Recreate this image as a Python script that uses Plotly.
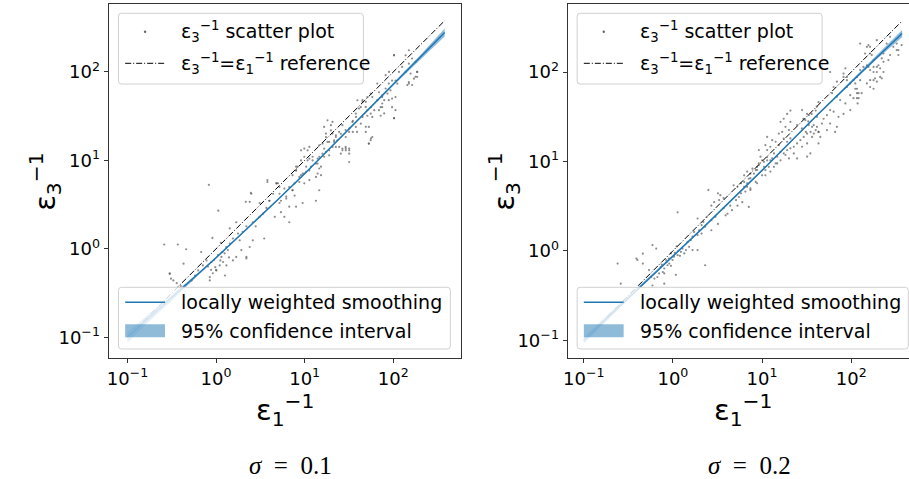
import plotly.graph_objects as go

# ---------------- data ----------------
tick_vals = [0.1, 1, 10, 100]
tick_text = ["10<sup>\u22121</sup>", "10<sup>0</sup>", "10<sup>1</sup>", "10<sup>2</sup>"]

# sigma = 0.1 panel: (eps1^-1, eps3^-1)
left_points = [
    (9.1,10.0),(9.9,11.0),(11.3,10.5),(10.4,8.5),(8.0,7.7),(9.1,6.8),(11.3,6.0),(9.9,5.5),(8.7,5.7),(7.7,4.0),
    (6.7,3.0),(5.9,2.3),(7.3,4.6),(6.2,3.9),(5.2,3.3),(5.4,2.6),(3.8,5.7),(5.0,5.5),(4.4,4.2),(4.0,3.5),
    (3.7,2.9),(3.4,2.5),(3.1,2.3),(2.6,2.0),(2.5,4.2),(2.4,3.4),(2.8,1.8),(2.2,1.8),(2.0,1.56),(1.77,1.49),
    (1.85,1.25),(1.55,1.31),(1.43,1.15),(1.36,0.97),(1.25,0.89),(1.15,0.81),(1.2,0.71),(1.31,0.65),(1.1,0.65),(1.01,0.57),
    (0.92,0.53),(0.85,0.48),(0.81,0.63),(0.89,0.71),(0.78,0.74),(0.71,0.65),(0.68,0.92),(0.91,1.33),(1.13,1.17),(1.06,2.7),
    (0.83,5.3),(0.46,0.99),(0.37,1.12),(0.26,1.12),(0.43,0.68),(0.30,0.52),(0.31,0.46),(2.2,0.78),(1.55,0.74),(2.4,1.05),
    (1.93,0.97),(1.69,0.81),(0.58,0.50),(0.63,0.57),(0.53,0.44),(1.43,1.7),(1.69,2.0),(3.1,3.3),(4.6,2.3),(6.7,2.0),
    (5.4,3.5),(0.30,0.53),(0.85,0.44),(2.2,0.81),(3.5,1.31),(2.6,1.25),(1.0,0.575),(1.26,0.50),(0.36,0.41),(0.33,0.44),
    (0.40,0.38),(0.95,0.75),(1.05,0.85),(1.12,0.74),(0.98,0.62),(1.18,0.92),(1.3,1.05),(0.88,0.58),(1.4,0.8),
    (55.6,56.9),(51,52),(45,46),(39.4,47.9),(41,38.5),(48.9,40.2),(55.6,33.8),(53,23.9),(55.6,16.9),(45,31),
    (37.8,33.8),(34.6,27.2),(37.8,23.9),(31.8,21),(29.1,18.4),(26.7,25),(24.5,21),(22.5,18.4),(21.5,16.9),(20.6,27.2),
    (19.8,25),(19.8,21.9),(17.4,18.4),(18.1,16.2),(15.9,15.5),(14.6,14.8),(16.6,13.6),(18.9,13.0),(22.5,14.2),(26.7,13.6),
    (29.1,13.0),(31.8,13.0),(25.6,11.9),(18.9,11.4),(16.6,11.0),(14,10.5),(13.4,9.2),(12.3,10.0),(11.8,8.5),(10.8,13.0),
    (9.9,13.6),(9.1,13.0),(14.6,8.1),(15.3,6.8),(13.4,6.5),(11.3,7.7),(10.4,7.4),(9.5,7.1),(8.3,8.5),(8.0,7.7),
    (7.3,6.8),(8.7,6.5),(7.7,5.5),(6.7,5.0),(5.9,4.8),(5.2,5.0),(4.8,5.5),(3.8,6.0),(16.6,23.9),(18.1,28.4),(49,21),
    (138,154),(150,176),(163,142),(178,130),(150,124),(126,114),(138,100),(157,96),(186,100),(171,84),
    (150,74),(163,71),(186,88),(116,100),(102,154),(97,80),(111,74),(89,74),(82,65),(93,62),
    (86,57),(75,54),(69,59),(66,48),(79,48),(89,48),(97,50),(106,52),(97,40),(75,40),
    (69,37),(61,37),(56,40),(51,37),(49,46),(45,48),(43,40),(58,52),(66,74),(82,92),
    (75,44),(102,30),(72,32),(79,34),(58,31),(51,32),(38,31),(35,28),(43,26),(49,24),
    (39,21),(35,21),(32,23),(29,22),(22.5,19.2),(25.6,20),(23.5,16.9),(21.5,16.2),(18.9,16.2),(20.6,14.2),
    (24.5,14.2),(26.7,13.0),(29.1,13.6),(17.4,12.5),(15.9,11.9),(14.6,11.0),(12.3,11.0),(14,9.2),(15.3,8.5),(31.8,11.9),
    (56,17.7),(53,15.5),(20.6,20.1),(17.4,20.1),(11.3,14.2),(10.8,10.0),
    (2.17,3.4),(2.47,4.3),(4.8,5.5),(4.0,3.5),(5.2,4.2),(6.2,3.7),(7.3,4.6),(8.0,3.0),(9.5,3.3),(13.4,3.5),
    (14.6,4.6),(9.9,7.1),(8.0,8.5),(14,7.1),(31.8,9.6),(31.8,13.6),(29,14.2),(53,15.5),(58,18.4),(102,30),
    (106,37),(72,40),(75,52),(144,71),(150,77),(186,100),(178,88),(106,80),(89.5,100),(102,155),
]

# sigma = 0.2 panel
right_points = [
    (11.4,11.2),(10.5,9.9),(11.9,8.7),(9.2,9.1),(8.8,8.0),(10.0,7.0),(8.1,7.3),(7.4,6.5),(8.5,5.9),(6.8,5.7),
    (6.3,5.2),(7.4,5.0),(6.5,4.6),(5.8,4.4),(5.5,4.0),(5.1,3.7),(6.0,3.5),(5.3,3.2),(4.4,3.2),(4.6,2.85),
    (4.1,2.6),(3.7,3.0),(3.4,4.2),(3.2,4.4),(3.3,3.7),(3.7,3.9),(2.9,3.5),(2.7,3.2),(2.5,4.8),(3.0,2.4),
    (2.7,2.2),(2.4,2.4),(2.2,2.1),(2.3,1.86),(2.1,1.94),(1.97,1.7),(2.1,1.56),(1.89,1.5),(1.73,1.63),(1.66,1.44),
    (1.59,1.32),(1.46,1.26),(1.52,1.11),(1.4,1.02),(1.28,1.06),(1.23,0.975),(1.34,0.935),(1.13,0.895),(1.03,0.86),(0.99,0.79),
    (0.95,0.935),(0.91,0.72),(0.84,0.79),(0.87,0.69),(0.8,0.635),(0.73,0.66),(0.77,0.58),(0.70,0.56),(0.67,0.51),(0.62,0.49),
    (0.57,0.51),(1.13,2.7),(0.65,1.06),(0.39,0.82),(0.46,0.72),(0.54,0.61),(0.24,0.72),(0.26,0.43),(0.59,0.41),(0.8,0.43),
    (2.3,0.69),(1.66,1.02),(1.89,1.02),(2.7,1.7),(3.2,2.0),(3.9,2.5),(7.1,3.1),(8.8,5.7),(10.9,8.0),(1.89,2.3),
    (0.46,0.93),(0.59,1.16),(0.40,0.79),(1.08,0.54),(0.8,0.56),(0.9,0.82),(1.05,0.95),(1.15,1.0),(0.85,0.75),(1.2,0.88),
    (0.95,0.68),(0.75,0.7),(1.1,1.12),
    (43,46),(41,41),(40,37),(36,34),(32,34),(29,30),(33,28),(38,25.5),(40,22.4),(43,21.4),
    (35,21.4),(31,21.4),(28,23.4),(24.7,25.5),(20.8,27.7),(20.8,37),(19.1,34),(17.5,30),(16.1,27.7),(18.3,24.4),
    (20,22.4),(16.8,21.4),(15.4,20.5),(17.5,18),(19.1,16.6),(15.4,15.2),(14.2,16.6),(13,17.3),(12.4,14.6),(11.4,13.4),
    (10.9,15.2),(13.6,12.3),(14.8,11.3),(16.1,12.8),(18.3,11.8),(13,10.8),(11.4,10.3),(10,10.3),(9.6,11.3),(9.2,9.5),
    (10.5,8.7),(8.8,8.7),(8.5,8.0),(7.8,8.3),(7.4,7.3),(6.8,7.7),(7.1,6.4),(6.3,7.0),(6.3,5.9),(5.8,5.7),
    (6.8,5.2),(7.4,4.8),(5.3,5.2),(4.8,5.4),(11.4,18.8),(9.2,13.4),(14.2,9.5),(12.4,7.7),(10.9,7.0),
    (126,81),(111,74.5),(116,65),(121,51),(116,58),(118,44.5),(97.5,74.5),(89.5,81),(82,88),(69,78),
    (63.5,68),(58,100),(61,58),(69,53),(75,48.5),(86,44.5),(97.5,55),(106,51),(131,58),(150,74.5),
    (163,81),(185,85),(97.5,37.5),(82,34),(72,31.5),(63.5,36),(58,37.5),(53.5,33),(49,30),(47,26.5),
    (41.3,24.4),(43,21.4),(38,20.5),(36.4,24.4),(33.4,25.5),(32,20.5),(29.3,18.8),(26.9,17.3),(24.7,15.9),(22.7,14.6),
    (20.8,14),(19.1,13.4),(17.5,12.3),(20,10.8),(22.7,12.3),(28.1,14.6),(32,15.9),(36.4,18.8),(41.3,31.5),(33.4,33),
    (30.6,29),(28.1,37.5),(58,26.5),(66,21.4),(69,24.4),(53.5,22.4),(45,18.8),(43,15.9),(24.7,10.8),(16.1,10.3),
    (14.8,9.5),(13.6,8.7),(12.4,10.3),(34.8,12.3),(32,11.3),(20.8,18.1),(156,200),(194,227),(126,105),
    (324,208),(338,176),(297,191),(273,248),(250,208),(230,161),(220,142),(194,114),(178,136),(163,161),
    (150,191),(143,161),(156,114),(178,100),(211,88),
    (368,200),(324,176),(338,155),(273,155),(261,136),(230,130),(202,119),(178,114),(163,105),(150,119),
    (137,114),(126,208),(163,191),(170,155),(211,110),(194,100),(230,100),(220,85),(194,78),(178,81),
    (163,68),(178,65),(116,88),(106,81),(89.5,88),(89.5,68),(111,65),(121,58),(116,51),(82,96),(86,110),
]

# locally weighted smoothing curves with 95% confidence bounds
left_smooth_x = [0.1, 0.2, 0.3, 0.45, 0.7, 1, 2, 3, 5, 10, 20, 50, 100, 200, 380]
left_smooth_y = [0.1, 0.187, 0.267, 0.383, 0.569, 0.794, 1.52, 2.22, 3.62, 7.08, 14.2, 35.8, 72.4, 145, 279]
left_ci_upper = [0.115, 0.205, 0.289, 0.401, 0.585, 0.809, 1.544, 2.255, 3.678, 7.19, 14.47, 36.6, 74.8, 153.6, 309]
left_ci_lower = [0.087, 0.171, 0.246, 0.366, 0.553, 0.779, 1.496, 2.185, 3.563, 6.97, 13.94, 35.0, 70.1, 136.9, 251.6]

right_smooth_x = [0.1, 0.2, 0.42, 1, 2.2, 5, 10, 40, 100, 200, 372]
right_smooth_y = [0.1, 0.193, 0.392, 0.871, 1.83, 4.05, 7.94, 31.8, 77.6, 150, 269]
right_ci_upper = [0.1096, 0.207, 0.406, 0.888, 1.856, 4.11, 8.05, 32.4, 79.8, 157, 295]
right_ci_lower = [0.0912, 0.180, 0.379, 0.855, 1.805, 3.99, 7.83, 31.2, 75.5, 143, 245]

# identity reference line extents
left_ref_x = [0.1, 380]
right_ref_x = [0.1, 372]

legend_top_labels = ["\u03b5<sub>3</sub><sup>\u22121</sup> scatter plot",
                     "\u03b5<sub>3</sub><sup>\u22121</sup>=\u03b5<sub>1</sub><sup>\u22121</sup> reference"]
legend_bottom_labels = ["locally weighted smoothing", "95% confidence interval"]
panel_captions = ["<i>\u03c3</i>\u2002=\u20020.1", "<i>\u03c3</i>\u2002=\u20020.2"]

# ---------------- figure ----------------
W, H = 909, 479
BLUE = "#1f77b4"
BAND = "rgba(31,119,180,0.5)"
DOT = "rgba(80,80,80,0.65)"
DASHDOT = "6px,2px,1px,2px"
FONT = "DejaVu Sans"


def px(x):
    return x / W


def py(y):
    return 1 - y / H


fig = go.Figure()

panels = [
    dict(pts=left_points, sx=left_smooth_x, sy=left_smooth_y, up=left_ci_upper, lo=left_ci_lower,
         ref=left_ref_x, xa="x", ya="y"),
    dict(pts=right_points, sx=right_smooth_x, sy=right_smooth_y, up=right_ci_upper, lo=right_ci_lower,
         ref=right_ref_x, xa="x2", ya="y2"),
]

for p in panels:
    fig.add_trace(go.Scatter(
        x=[a for a, b in p["pts"]], y=[b for a, b in p["pts"]], mode="markers",
        xaxis=p["xa"], yaxis=p["ya"], marker=dict(size=2.2, color=DOT),
        name=legend_top_labels[0], showlegend=False))
    fig.add_trace(go.Scatter(
        x=p["ref"], y=p["ref"], mode="lines", xaxis=p["xa"], yaxis=p["ya"],
        line=dict(color="black", width=1, dash=DASHDOT),
        name=legend_top_labels[1], showlegend=False))
    fig.add_trace(go.Scatter(
        x=p["sx"] + p["sx"][::-1], y=p["up"] + p["lo"][::-1],
        mode="lines", fill="toself", xaxis=p["xa"], yaxis=p["ya"],
        fillcolor=BAND, line=dict(width=0, color="rgba(31,119,180,0)"),
        name=legend_bottom_labels[1], showlegend=False))
    fig.add_trace(go.Scatter(
        x=p["sx"], y=p["sy"], mode="lines", xaxis=p["xa"], yaxis=p["ya"],
        line=dict(color=BLUE, width=1.5),
        name=legend_bottom_labels[0], showlegend=False))

axis_common = dict(
    type="log", tickvals=tick_vals, ticktext=tick_text,
    ticks="outside", ticklen=4, tickwidth=1, tickcolor="#333",
    showline=True, linecolor="#333", linewidth=1,
    showgrid=False, zeroline=False,
    tickfont=dict(family=FONT, size=18, color="black"),
)

ydom = [py(358), py(3.5)]
fig.update_layout(
    width=W, height=H,
    margin=dict(l=0, r=0, t=0, b=0),
    paper_bgcolor="white", plot_bgcolor="white",
    showlegend=False,
    xaxis=dict(axis_common, domain=[px(105), px(459)], range=[-1.213, 2.764], mirror=True, anchor="y"),
    yaxis=dict(axis_common, domain=ydom, range=[-1.234, 2.774], mirror=True, anchor="x"),
    xaxis2=dict(axis_common, domain=[px(566), 1.0], range=[-1.182, 2.648], mirror=True, anchor="y2"),
    yaxis2=dict(axis_common, domain=ydom, range=[-1.198, 2.766], mirror=False, anchor="x2"),
)

shapes = []
annots = []


def rounded_box(x0, y0, x1, y1, r=3):
    X = lambda v: f"{px(v):.5f}"
    Y = lambda v: f"{py(v):.5f}"
    d = (f"M{X(x0 + r)},{Y(y0)} L{X(x1 - r)},{Y(y0)} Q{X(x1)},{Y(y0)} {X(x1)},{Y(y0 + r)} "
         f"L{X(x1)},{Y(y1 - r)} Q{X(x1)},{Y(y1)} {X(x1 - r)},{Y(y1)} "
         f"L{X(x0 + r)},{Y(y1)} Q{X(x0)},{Y(y1)} {X(x0)},{Y(y1 - r)} "
         f"L{X(x0)},{Y(y0 + r)} Q{X(x0)},{Y(y0)} {X(x0 + r)},{Y(y0)} Z")
    return dict(type="path", path=d, xref="paper", yref="paper",
                fillcolor="rgba(255,255,255,0.8)", line=dict(color="#d0d0d0", width=1), layer="above")


def legend_text(txt, x, y):
    return dict(text=txt, x=px(x), y=py(y), xref="paper", yref="paper", showarrow=False,
                xanchor="left", yanchor="middle", font=dict(family=FONT, size=19, color="black"))


# manual matplotlib-style legends (two per panel)
for bx, bot_right in [(115, 448.3), (575.7, 908.3)]:
    # upper legend
    shapes.append(rounded_box(bx, 13.3, bx + 246, 84))
    r1, r2 = 31.7, 63.3
    shapes.append(dict(type="circle", xref="paper", yref="paper",
                       x0=px(bx + 25.5), x1=px(bx + 27.9), y0=py(r1 - 1.2), y1=py(r1 + 1.2),
                       fillcolor="rgb(100,100,100)", line=dict(width=0), layer="above"))
    shapes.append(dict(type="line", xref="paper", yref="paper",
                       x0=px(bx + 6.7), x1=px(bx + 46.7), y0=py(r2), y1=py(r2),
                       line=dict(color="black", width=1, dash=DASHDOT), layer="above"))
    annots.append(legend_text(legend_top_labels[0], bx + 61, r1))
    annots.append(legend_text(legend_top_labels[1], bx + 61, r2))
    # lower legend
    shapes.append(rounded_box(bx, 287.3, bot_right, 349))
    r3, r4 = 302.3, 330.8
    shapes.append(dict(type="line", xref="paper", yref="paper",
                       x0=px(bx + 6.7), x1=px(bx + 46.7), y0=py(r3), y1=py(r3),
                       line=dict(color=BLUE, width=1.5), layer="above"))
    shapes.append(dict(type="rect", xref="paper", yref="paper",
                       x0=px(bx + 6.7), x1=px(bx + 46.7), y0=py(r4 - 6.5), y1=py(r4 + 6.5),
                       fillcolor=BAND, line=dict(width=0), layer="above"))
    annots.append(legend_text(legend_bottom_labels[0], bx + 61, r3))
    annots.append(legend_text(legend_bottom_labels[1], bx + 61, r4))

# axis titles and panel captions
for cx, ycx in [(283, 41), (743, 502)]:
    annots.append(dict(text="\u03b5<sub>1</sub><sup>\u22121</sup>", x=px(cx), y=py(410),
                       xref="paper", yref="paper", showarrow=False, xanchor="center", yanchor="middle",
                       font=dict(family=FONT, size=29, color="black")))
    annots.append(dict(text="\u03b5<sub>3</sub><sup>\u22121</sup>", x=px(ycx), y=py(181),
                       xref="paper", yref="paper", showarrow=False, textangle=-90,
                       xanchor="center", yanchor="middle",
                       font=dict(family=FONT, size=29, color="black")))
for cap, cx in zip(panel_captions, [287.5, 748.3]):
    annots.append(dict(text=cap, x=px(cx), y=py(465), xref="paper", yref="paper",
                       showarrow=False, xanchor="center", yanchor="middle",
                       font=dict(family="Liberation Serif", size=25, color="black")))

fig.update_layout(shapes=shapes, annotations=annots)

fig.write_html("out.html", config={"displayModeBar": False, "staticPlot": False})

# remove the browser's default 8px body margin so the figure fills the window exactly
with open("out.html", "r", encoding="utf-8") as fh:
    html = fh.read()
html = html.replace("<body>", '<body style="margin:0;padding:0;overflow:hidden">', 1)
with open("out.html", "w", encoding="utf-8") as fh:
    fh.write(html)
